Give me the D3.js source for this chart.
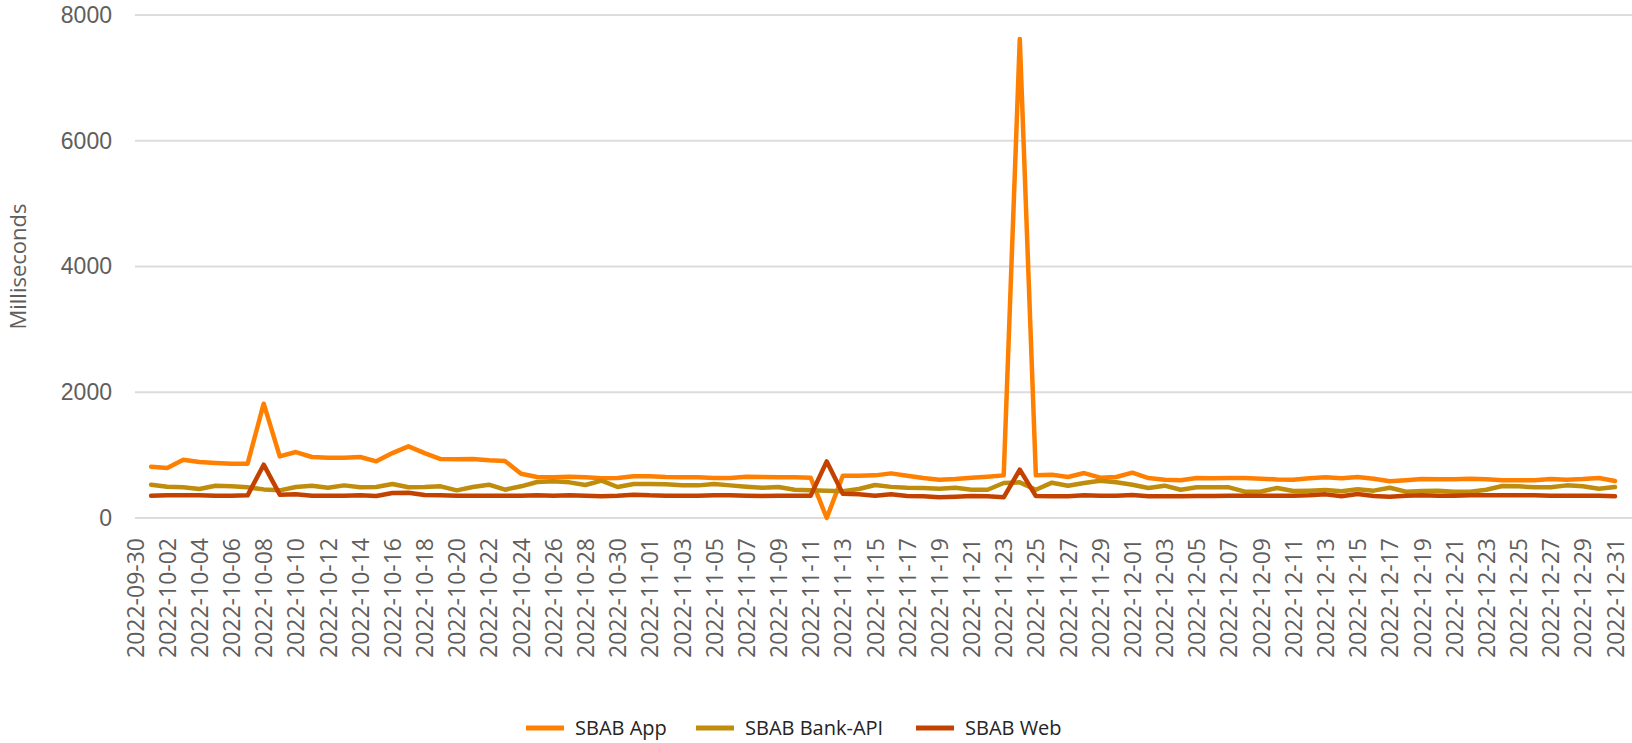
<!DOCTYPE html>
<html>
<head>
<meta charset="utf-8">
<script src="https://cdn.jsdelivr.net/npm/d3@7"></script>
<style>
  html, body { margin: 0; padding: 0; background: #fff; }
  svg { display: block; font-family: "Open Sans", "Noto Sans", sans-serif; }
</style>
</head>
<body>
<svg id="chart" width="1632" height="743"></svg>
<script>
// ---- data ----
const startDate = "2022-09-30";
const endDate = "2022-12-31";
const seriesNames = ["SBAB App", "SBAB Bank-API", "SBAB Web"];
const seriesColors = ["#ff8000", "#bf8c0c", "#c44200"];
// values from 2022-09-30 (no value) through 2022-12-31
const appValues = [null,
  816, 795, 928, 890, 875, 864, 864, 1818, 980, 1049,
  970, 959, 959, 970, 901, 1033, 1140, 1033, 938, 933,
  938, 917, 905, 705, 652, 647, 657, 647, 631, 636,
  663, 663, 652, 647, 647, 636, 636, 657, 652, 647,
  647, 641, 0, 673, 673, 678, 710, 673, 636, 610,
  620, 641, 657, 678, 7620, 678, 689, 652, 715, 641,
  652, 721, 636, 610, 599, 636, 631, 636, 636, 625,
  613, 610, 631, 647, 631, 652, 625, 583, 599, 620,
  615, 615, 625, 615, 599, 599, 599, 620, 610, 620,
  636, 588];
const bankApiValues = [null,
  530, 498, 488, 461, 514, 504, 488, 455, 440, 493,
  514, 482, 519, 488, 493, 540, 488, 493, 504, 440,
  493, 530, 450, 504, 572, 583, 567, 525, 594, 493,
  540, 540, 535, 519, 519, 540, 519, 498, 482, 493,
  450, 440, 435, 424, 461, 525, 495, 482, 477, 466,
  482, 450, 450, 556, 567, 450, 562, 514, 556, 594,
  567, 530, 477, 514, 450, 488, 488, 488, 419, 422,
  477, 429, 435, 445, 424, 456, 435, 482, 419, 429,
  435, 419, 419, 450, 509, 504, 488, 488, 519, 504,
  466, 493];
const webValues = [null,
  355, 360, 360, 360, 355, 355, 360, 848, 371, 376,
  355, 355, 355, 360, 350, 398, 403, 366, 360, 355,
  355, 355, 355, 355, 360, 355, 360, 355, 345, 355,
  371, 360, 355, 355, 355, 360, 360, 355, 350, 355,
  355, 355, 900, 387, 376, 355, 376, 350, 345, 329,
  339, 350, 345, 329, 769, 350, 345, 345, 360, 355,
  355, 366, 345, 345, 345, 350, 350, 355, 355, 355,
  355, 355, 360, 376, 345, 381, 350, 339, 355, 360,
  355, 355, 360, 360, 360, 360, 360, 355, 355, 355,
  355, 345];
const yTicks = [0, 2000, 4000, 6000, 8000];
const yTitle = "Milliseconds";

// ---- build categories ----
const fmt = d3.timeFormat("%Y-%m-%d");
const parse = d3.timeParse("%Y-%m-%d");
const dates = d3.timeDay.range(parse(startDate), d3.timeDay.offset(parse(endDate), 1)).map(fmt);
const tickLabels = dates.filter((d, i) => i % 2 === 0);

const allSeries = [appValues, bankApiValues, webValues];

const svg = d3.select("#chart");
const x = d3.scalePoint().domain(dates).range([135, 1615]);
const y = d3.scaleLinear().domain([0, 8000]).range([518, 15]);

// gridlines
svg.append("g").selectAll("line").data(yTicks).join("line")
  .attr("x1", 135).attr("x2", 1632)
  .attr("y1", d => y(d)).attr("y2", d => y(d))
  .attr("stroke", "#dcdcdc").attr("stroke-width", 2);

// y axis
const yAxis = svg.append("g").attr("transform", "translate(112,0)")
  .call(d3.axisLeft(y).tickValues(yTicks).tickSize(0).tickPadding(0).tickFormat(d3.format("d")));
yAxis.select(".domain").remove();
yAxis.selectAll("text").attr("fill", "#605e5c").style("font-size", "23px")
  .style("font-family", "'Liberation Sans', Arial, sans-serif");

// y title
svg.append("text")
  .attr("transform", `translate(26,${(y(0) + y(8000)) / 2}) rotate(-90)`)
  .attr("text-anchor", "middle")
  .attr("fill", "#605e5c").style("font-size", "22px")
  .text(yTitle);

// x axis
const xAxis = svg.append("g").attr("transform", `translate(0,${y(0)})`)
  .call(d3.axisBottom(x).tickValues(tickLabels).tickSize(0).tickPadding(0));
xAxis.select(".domain").remove();
xAxis.selectAll("text")
  .attr("fill", "#605e5c").style("font-size", "23px")
  .style("font-family", "'Open Sans', sans-serif")
  .attr("transform", "rotate(-90)")
  .attr("text-anchor", "end")
  .attr("x", -20).attr("y", 0).attr("dy", "0.35em");

// lines
const line = d3.line()
  .defined(d => d.v !== null)
  .x(d => x(d.date)).y(d => y(d.v));
allSeries.forEach((vals, k) => {
  const pts = dates.map((date, i) => ({date, v: vals[i]}));
  svg.append("path").datum(pts)
    .attr("fill", "none")
    .attr("stroke", seriesColors[k])
    .attr("stroke-width", 4.5)
    .attr("stroke-linejoin", "round")
    .attr("stroke-linecap", "round")
    .attr("d", line);
});

// legend
const legendX = [526, 696, 916];
const lg = svg.append("g").attr("transform", "translate(0,728)");
seriesNames.forEach((name, k) => {
  const g = lg.append("g").attr("transform", `translate(${legendX[k]},0)`);
  g.append("line").attr("x1", 0).attr("x2", 38).attr("y1", 0).attr("y2", 0)
    .attr("stroke", seriesColors[k]).attr("stroke-width", 5);
  g.append("text").attr("x", 49).attr("y", 0).attr("dy", "0.35em")
    .attr("fill", "#252423").style("font-size", "20px").text(name);
});
</script>
</body>
</html>
